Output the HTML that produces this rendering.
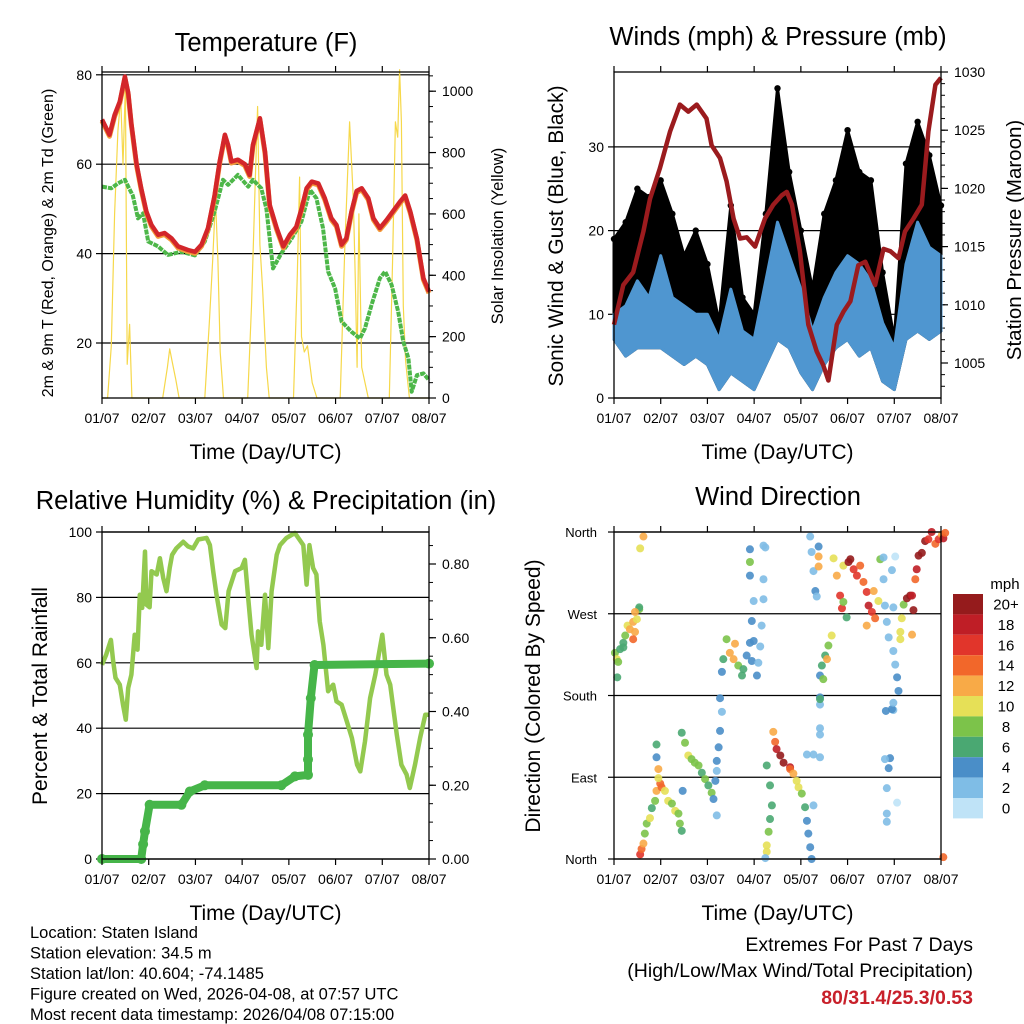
<!DOCTYPE html>
<html><head><meta charset="utf-8"><style>
html,body{margin:0;padding:0;background:#fff}
svg{display:block;font-family:"Liberation Sans",Arial,sans-serif}
</style></head><body>
<svg id="c" width="1024" height="1024" viewBox="0 0 1024 1024"></svg>
<script>
// ---------- DATA ----------
const dayLabels=["01/07","02/07","03/07","04/07","05/07","06/07","07/07","08/07"];
// Temperature panel
const tempDay=[0,0.16,0.27,0.38,0.49,0.56,0.63,0.74,0.84,0.95,1.06,1.2,1.34,1.49,1.63,1.84,1.99,2.13,2.27,2.41,2.52,2.63,2.7,2.77,2.91,3.06,3.16,3.23,3.38,3.49,3.59,3.74,3.88,4.02,4.16,4.27,4.38,4.49,4.63,4.77,4.91,5.02,5.13,5.23,5.34,5.45,5.56,5.7,5.81,5.95,6.09,6.38,6.49,6.6,6.74,6.88,7];
const tempF=[70,66.6,71,74,79.6,76,69,60,54.6,49.4,46.4,44.2,44.6,43.4,41.6,40.8,40.4,42,45.7,53,60.6,66.6,64.3,60.6,61,60,57.6,64.3,70.3,62.8,50.9,45.7,41.6,44.2,46,50,54.6,56.1,55.7,52.4,47.9,46.4,42,43.4,49.4,54,54.6,52.4,47.9,45.7,47.5,51.6,53,49.4,43.4,34.5,31.5];
const dewDay=[0,0.2,0.34,0.49,0.56,0.66,0.77,0.88,0.99,1.2,1.41,1.7,1.99,2.2,2.41,2.59,2.7,2.91,3.13,3.23,3.41,3.52,3.59,3.66,3.84,4.06,4.27,4.45,4.59,4.73,4.84,4.99,5.13,5.34,5.52,5.63,5.77,5.95,6.06,6.2,6.34,6.45,6.56,6.63,6.74,6.88,7];
const dewF=[55,54.6,55.7,56.5,55,53,47.9,49,42.7,41.6,39.7,40.4,39.6,42.7,49.4,56.5,55.4,57.6,55,56.5,54.6,50,43.4,36.7,40.1,43.4,47.2,54.3,52.4,45.7,36,32.2,24.8,22.5,21,23.3,28.5,34.5,36,33,27,20.3,16.6,9.1,12.8,13.2,11.7];
const solarDay=[0,0.12,0.2,0.27,0.34,0.4,0.45,0.5,0.54,0.59,0.64,1.3,1.4,1.45,1.5,1.58,1.65,2.2,2.3,2.37,2.43,2.48,2.53,2.6,3.12,3.2,3.28,3.33,3.38,3.44,3.52,3.58,4.1,4.18,4.23,4.27,4.33,4.4,4.5,4.6,5.1,5.2,5.3,5.38,5.42,5.46,5.5,5.56,5.7,6.15,6.22,6.28,6.33,6.37,6.41,6.45,6.5,6.58,7];
const solarW=[0,0,170,600,870,980,760,1020,110,240,0,0,100,160,120,60,0,0,250,450,650,450,150,0,0,300,700,950,500,350,100,0,0,400,720,200,150,170,50,0,0,500,900,650,400,100,600,100,0,0,450,900,850,1070,900,300,120,0,0];
// Wind panel (6-hourly)
const windDay=[0,0.25,0.5,0.75,1,1.25,1.5,1.75,2,2.25,2.5,2.75,3,3.25,3.5,3.75,4,4.25,4.5,4.75,5,5.25,5.5,5.75,6,6.25,6.5,6.75,7];
const windLo=[7,5,6,6,6,5,4,5,4,1,3,2,1,4,7,6,3,1,4,6,7,5,6,2,1,7,8,7,8];
const windHi=[10,11,14,12,17,12,11,10,10,7,13,8,7,14,21,17,13,8,12,15,17,16,14,9,6,16,21,18,17];
const gustHi=[19,21,25,24,26,22,17,20,16,9,23,12,10,22,37,27,20,13,22,26,32,27,26,15,7,28,33,29,23];
const presDay=[0,0.2,0.41,0.63,0.77,0.98,1.2,1.41,1.59,1.77,1.98,2.09,2.27,2.41,2.56,2.7,2.84,3.02,3.23,3.41,3.59,3.7,3.81,3.98,4.16,4.34,4.48,4.59,4.77,4.91,5.06,5.23,5.38,5.59,5.77,5.92,6.09,6.23,6.41,6.59,6.73,6.88,7];
const presMb=[1008.3,1011.7,1012.8,1016.3,1019.1,1021.7,1024.9,1027.2,1026.6,1027.2,1026,1023.7,1022.6,1020.6,1017.4,1015.7,1015.8,1015,1017.4,1018.6,1019.4,1019.7,1018.6,1014.6,1008.3,1006,1004.8,1003.5,1008.3,1009.4,1010.3,1013.4,1013.7,1011.7,1014.8,1014.6,1014,1016.3,1017.4,1018.6,1024.9,1028.9,1029.5];
// RH / precip panel
const rhDay=[0,0.09,0.19,0.24,0.29,0.38,0.45,0.51,0.56,0.63,0.7,0.76,0.81,0.86,0.92,0.95,1.02,1.06,1.17,1.24,1.31,1.38,1.45,1.5,1.59,1.74,1.84,1.95,2.06,2.24,2.31,2.38,2.45,2.56,2.64,2.71,2.85,2.99,3.06,3.13,3.2,3.31,3.34,3.41,3.49,3.56,3.63,3.74,3.81,3.95,4.13,4.31,4.38,4.44,4.52,4.59,4.66,4.74,4.84,4.95,5.02,5.13,5.24,5.35,5.46,5.53,5.63,5.74,5.85,5.95,6,6.09,6.17,6.31,6.41,6.52,6.59,6.7,6.81,6.92,7];
const rhPct=[59.4,62.5,67,60.4,55.4,53.3,47.2,42.6,52.3,56.4,68.6,64,80.8,76.8,94,77.8,77,88,87,92,86,81.9,89,93,95,97,95.6,95,97.7,98.2,96,88,80.8,71.7,70.6,81.9,88,89,91.5,79.8,68.6,58.4,69.6,65.5,80.8,64.5,81.9,93,96,98.2,99.7,96,83.9,96,89,87,72.7,65.5,51.3,53.3,48.2,47.2,42.1,37,28.8,26.8,36,49.2,56.4,64.5,68.6,56.4,53.3,38,28.8,25.8,21.7,28.8,37,44.1,44.1];
const prDay=[0,0.84,0.88,0.92,1.02,1.7,1.88,2.2,3.84,4.13,4.41,4.41,4.41,4.47,4.55,7];
const prIn=[0,0,0.04,0.075,0.147,0.147,0.183,0.2,0.2,0.224,0.228,0.27,0.337,0.436,0.526,0.53];
// Wind direction panel
const dirDay=[0.02,0.06,0.13,0.2,0.24,0.29,0.34,0.41,0.45,0.49,0.54,0.41,0.09,0.2,0.54,0.45,0.56,0.63,0.07,
0.56,0.59,0.63,0.66,0.7,0.77,0.81,0.88,0.91,0.99,1.02,1.09,1.16,1.24,1.31,1.38,1.41,1.45,0.91,0.91,0.95,0.95,
1.45,1.52,1.59,1.66,1.73,1.81,1.88,1.95,2.02,2.09,2.13,2.2,2.17,2.2,2.24,2.27,2.2,1.47,
2.27,2.31,2.31,2.34,2.41,2.48,2.56,2.59,2.66,2.74,2.77,2.84,2.91,2.95,2.99,2.95,2.99,3.06,3.09,3.13,3.16,3.2,3.2,3.24,2.91,2.91,2.91,3.2,
3.27,3.34,3.38,3.34,3.31,3.27,3.27,3.24,
3.41,3.45,3.48,3.56,3.63,3.77,3.77,3.84,3.91,3.95,4.02,4.09,4.13,4.16,4.2,4.23,4.13,4.27,4.41,4.41,4.41,4.27,
4.2,4.23,4.27,4.31,4.34,4.38,4.38,4.38,4.41,4.41,4.41,4.45,4.52,4.59,4.66,4.56,4.48,4.41,
4.7,4.77,4.84,4.88,4.91,5.02,5.06,5.13,5.2,5.27,5.34,5.41,5.45,5.52,5.59,5.66,5.7,5.41,5.56,4.98,4.91,
5.77,5.77,5.8,5.84,5.88,5.95,5.98,6.02,6.06,6.09,5.98,5.95,5.91,5.88,5.84,5.84,5.84,5.8,5.82,6.02,5.98,5.98,6.06,
6.13,6.16,6.2,6.27,6.34,6.38,6.41,6.45,6.48,6.52,6.59,6.66,6.73,6.8,6.88,6.95,7.02,7.05,7.09,6.38,7.05,6.13];
const dirDeg=[227,220,231,238,246,257,253,261,250,264,275,242,217,233,277,272,342,355,200,
5,11,17,28,39,45,56,64,75,83,79,75,64,61,53,50,39,31,126,112,99,89,
139,128,114,110,106,103,95,88,81,73,66,48,86,108,123,141,97,75,
177,162,206,220,242,227,220,237,213,202,209,224,238,218,240,262,284,202,216,234,257,286,308,343,341,327,312,345,
103,81,59,44,30,15,8,1,
140,129,121,114,106,101,99,94,86,79,72,57,42,28,13,0,115,115,112,144,137,59,
355,338,317,295,289,344,333,322,202,178,170,213,224,235,246,220,198,176,
331,312,290,276,323,327,330,319,312,323,305,294,279,272,265,284,330,257,295,266,283,
332,308,279,261,244,318,229,214,200,185,164,165,111,100,78,50,41,110,163,333,277,172,62,
250,265,280,287,290,290,274,308,319,334,337,350,352,360,347,352,357,353,359,247,2,242];
const dirSpd=[8,10,7,6,8,10,12,13,12,10,8,14,9,7,6,13,10,12,6,
16,14,12,9,8,10,6,8,12,15,14,10,11,9,10,8,9,7,6,5,13,10,
6,8,10,8,9,8,7,8,6,9,5,3,4,4,4,4,3,4,
4,3,4,6,8,12,12,13,9,6,6,4,4,4,4,4,3,4,3,3,2,2,2,3,4,8,4,2,
6,6,6,6,8,10,10,2,
12,14,18,20,20,18,14,12,10,10,8,6,4,4,4,4,2,2,2,3,2,2,
3,3,3,4,2,5,12,13,4,4,2,6,7,8,10,12,8,6,
10,12,16,17,11,20,20,17,16,14,15,17,18,16,15,11,9,13,12,6,8,
2,3,3,3,2,2,2,3,4,4,2,4,4,4,2,3,3,3,4,1,2,3,1,
10,10,8,20,20,18,20,14,18,20,20,20,16,18,14,16,12,18,14,13,14,10];
const spdColors=["#bfe3f7","#7fbde6","#4a8ec8","#4aa872","#7cc34a","#e6e057","#f8aa47","#f2672a","#e1352b","#bf1e26","#951b1c"];
const cbLabels=["20+","18","16","14","12","10","8","6","4","2","0"];

// ---------- HELPERS ----------
const NS="http://www.w3.org/2000/svg";
const svg=document.getElementById('c');
function mk(tag,attrs,parent){const e=document.createElementNS(NS,tag);for(const k in attrs)e.setAttribute(k,attrs[k]);(parent||svg).appendChild(e);return e;}
function txt(s,x,y,size,anchor,parent,extra){const e=mk('text',Object.assign({x:x,y:y,'font-size':size,'text-anchor':anchor||'middle',fill:'#000'},extra||{}),parent);e.textContent=s;return e;}
function line(x1,y1,x2,y2,w,col,parent){return mk('line',{x1:x1,y1:y1,x2:x2,y2:y2,stroke:col||'#000','stroke-width':w||1},parent);}
function pts(xs,ys,fx,fy){return xs.map((d,i)=>fx(d).toFixed(1)+','+fy(ys[i]).toFixed(1)).join(' ');}

function panel(name,x0,x1,y0,y1){
  const g=mk('g',{});
  
  
  const fx=d=>x0+d*(x1-x0)/7;
  return {g,x0,x1,y0,y1,fx};
}
function frame(p){
  mk('rect',{x:p.x0,y:p.y0,width:p.x1-p.x0,height:p.y1-p.y0,fill:'none',stroke:'#000','stroke-width':1.3},p.g);
  for(let d=0;d<=7;d++){const x=p.fx(d);line(x,p.y1,x,p.y1+6,1.2,'#000',p.g);line(x,p.y0,x,p.y0-6,1.2,'#000',p.g);
    const t=txt(dayLabels[d],x,p.y1+25,14,'middle',p.g);
    
    }
  const xt=txt('Time (Day/UTC)',(p.x0+p.x1)/2,p.y1+61,21,'middle',p.g);
  
  
}
function leftAxis(p,vals,fy,labels,grid,size,lx){
  vals.forEach((v,i)=>{const y=fy(v);line(p.x0-6,y,p.x0,y,1.2,'#000',p.g);
    if(grid)line(p.x0,y,p.x1,y,1.2,'#000',p.g);
    const t=txt(labels[i],lx||p.x0-10,y+5,size||14,'end',p.g);
    
    });
}
function rightAxis(p,vals,fy,labels,minor,fyMinor){
  if(minor)minor.forEach(v=>{const y=fyMinor(v);line(p.x1,y,p.x1+4,y,1,'#000',p.g);});
  vals.forEach((v,i)=>{const y=fy(v);line(p.x1,y,p.x1+7,y,1.2,'#000',p.g);
    const t=txt(labels[i],p.x1+13,y+5,14,'start',p.g);
    
    });
}
function vtitle(s,x,y,size,parent,name){const t=txt(s,0,0,size,'middle',parent,{transform:`translate(${x},${y}) rotate(-90)`});
  
  return t;}
function title(s,x,y,name){const t=txt(s,x,y,25.5,'middle');
  
  }

// ---------- PANEL 1: Temperature ----------
{
  const p=panel('temperature-panel',102,429,72,398);
  const fyT=v=>343-(v-20)*4.47, fyS=v=>398-v*0.3068;
  leftAxis(p,[20,40,60,80],fyT,["20","40","60","80"],true,14);
  const minor=[];for(let v=0;v<=1050;v+=50)minor.push(v);
  rightAxis(p,[0,200,400,600,800,1000],fyS,["0","200","400","600","800","1000"],minor,fyS);
  const sol=mk('polyline',{points:pts(solarDay,solarW,p.fx,fyS),fill:'none',stroke:'#f6d84a','stroke-width':1.2,'stroke-linejoin':'round'},p.g);
  
  
  const dew=mk('polyline',{points:pts(dewDay,dewF,p.fx,fyT),fill:'none',stroke:'#4db749','stroke-width':4,'stroke-dasharray':'5 1','stroke-linejoin':'round'},p.g);
  
  
  const t9=mk('polyline',{points:pts(tempDay,tempF,p.fx,v=>fyT(v)+1.5),fill:'none',stroke:'#f39a3a','stroke-width':5,'stroke-linejoin':'round'},p.g);
  
  
  const t2=mk('polyline',{points:pts(tempDay,tempF,p.fx,fyT),fill:'none',stroke:'#d3262a','stroke-width':4.5,'stroke-linejoin':'round'},p.g);
  
  
  frame(p);
  vtitle('2m & 9m T (Red, Orange) & 2m Td (Green)',53,243,16,p.g,'left-axis-title');
  vtitle('Solar Insolation (Yellow)',503,236,16.5,p.g,'right-axis-title');
  title('Temperature (F)',266,51,'temperature-title');
}
// ---------- PANEL 2: Winds ----------
{
  const p=panel('winds-panel',614,941,72,398);
  const fyW=v=>398-v*8.37, fyP=v=>72+(1030-v)*11.64;
  leftAxis(p,[0,10,20,30],fyW,["0","10","20","30"],true,14);
  const minor=[];for(let v=1003;v<=1030;v++)minor.push(v);
  rightAxis(p,[1005,1010,1015,1020,1025,1030],fyP,["1005","1010","1015","1020","1025","1030"],minor,fyP);
  const rev=a=>a.slice().reverse();
  const gb=mk('polygon',{points:pts(windDay.concat(rev(windDay)),gustHi.concat(rev(windLo)),p.fx,fyW),fill:'#000',stroke:'#000','stroke-width':3,'stroke-linejoin':'round'},p.g);
  
  
  windDay.forEach((d,i)=>{const c=mk('circle',{cx:p.fx(d),cy:fyW(gustHi[i]),r:3.2,fill:'#000'},p.g);
    
    });
  const wb=mk('polygon',{points:pts(windDay.concat(rev(windDay)),windHi.concat(rev(windLo)),p.fx,fyW),fill:'#4f96d0',stroke:'#4f96d0','stroke-width':3,'stroke-linejoin':'round'},p.g);
  
  
  const pr=mk('polyline',{points:pts(presDay,presMb,p.fx,fyP),fill:'none',stroke:'#9b1b1e','stroke-width':4.5,'stroke-linejoin':'round'},p.g);
  
  
  frame(p);
  vtitle('Sonic Wind & Gust (Blue, Black)',563,236,21,p.g,'left-axis-title');
  vtitle('Station Pressure (Maroon)',1021,240,20.5,p.g,'right-axis-title');
  title('Winds (mph) & Pressure (mb)',778,45,'winds-title');
}
// ---------- PANEL 3: RH & Precip ----------
{
  const p=panel('humidity-panel',102,429,532,859);
  const fyR=v=>859-v*3.27, fyPr=v=>859-v*368.75;
  leftAxis(p,[0,20,40,60,80,100],fyR,["0","20","40","60","80","100"],true,14);
  const minor=[];for(let v=0;v<=0.88;v+=0.05)minor.push(v);
  rightAxis(p,[0,0.2,0.4,0.6,0.8],fyPr,["0.00","0.20","0.40","0.60","0.80"],minor,fyPr);
  const rh=mk('polyline',{points:pts(rhDay,rhPct,p.fx,fyR),fill:'none',stroke:'#93c94f','stroke-width':4.5,'stroke-linejoin':'round'},p.g);
  
  
  const pc=mk('polyline',{points:pts(prDay,prIn,p.fx,fyPr),fill:'none',stroke:'#46b549','stroke-width':8,'stroke-linejoin':'round','stroke-linecap':'round'},p.g);
  
  
  prDay.forEach((d,i)=>{const c=mk('circle',{cx:p.fx(d),cy:fyPr(prIn[i]),r:5,fill:'#46b549'},p.g);
    
    });
  frame(p);
  vtitle('Percent & Total Rainfall',47,696,21,p.g,'left-axis-title');
  title('Relative Humidity (%) & Precipitation (in)',266,509,'humidity-title');
}
// ---------- PANEL 4: Wind Direction ----------
{
  const p=panel('wind-direction-panel',614,941,532,859);
  const fyD=v=>859-v*0.9083;
  leftAxis(p,[0,90,180,270,360],fyD,["North","East","South","West","North"],true,13,597);
  dirDay.forEach((d,i)=>{const k=Math.min(10,Math.floor(dirSpd[i]/2));
    const c=mk('circle',{cx:p.fx(d),cy:fyD(dirDeg[i]),r:4,fill:spdColors[k],'fill-opacity':0.9},p.g);
    
    });
  frame(p);
  vtitle('Direction (Colored By Speed)',540,696,21,p.g,'left-axis-title');
  title('Wind Direction',778,505,'wind-direction-title');
  const cb=mk('g',{});
  
  
  txt('mph',1005,589,15,'middle',cb);
  cbLabels.forEach((l,i)=>{const y=594+i*20.4;
    mk('rect',{x:953,y:y,width:30,height:20.4,fill:spdColors[10-i]},cb);
    const t=txt(l,1006,y+15.5,15,'middle',cb);
    
    });
}
// ---------- FOOTER ----------
{
  const g=mk('g',{});
  
  
  ["Location: Staten Island","Station elevation: 34.5 m","Station lat/lon: 40.604; -74.1485","Figure created on Wed, 2026-04-08, at 07:57 UTC","Most recent data timestamp: 2026/04/08 07:15:00"].forEach((s,i)=>txt(s,30,938+i*20.5,16.5,'start',g));
  const h=mk('g',{});
  
  
  txt('Extremes For Past 7 Days',973,951,19.5,'end',h);
  txt('(High/Low/Max Wind/Total Precipitation)',973,977,19.5,'end',h);
  txt('80/31.4/25.3/0.53',973,1004,19.5,'end',h,{fill:'#c8202a','font-weight':'bold'});
}
</script>
</body></html>
